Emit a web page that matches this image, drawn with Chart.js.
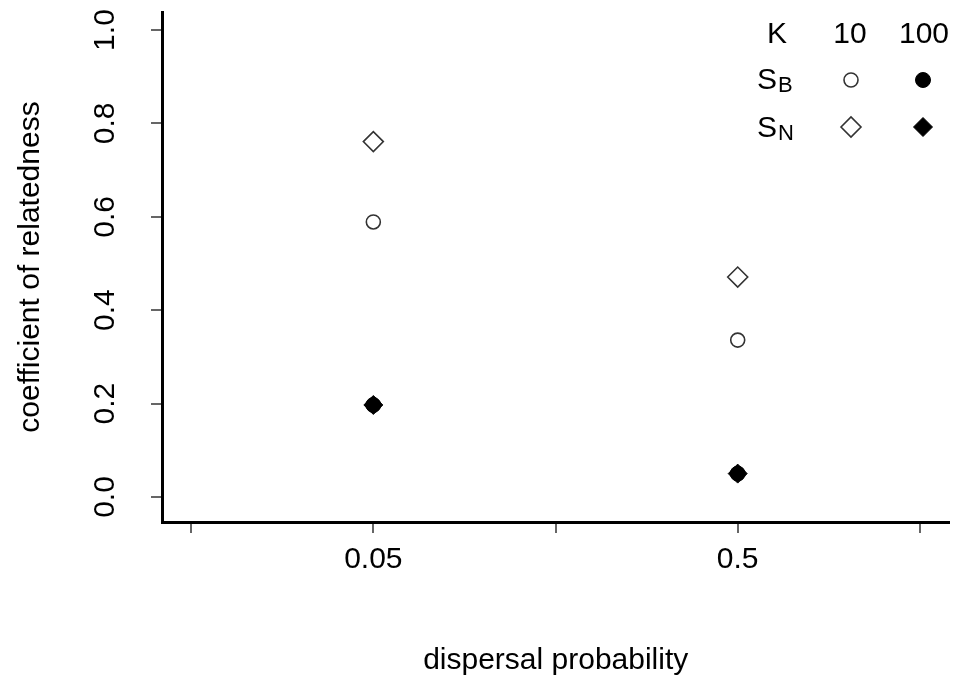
<!DOCTYPE html>
<html>
<head>
<meta charset="utf-8">
<script src="https://cdn.jsdelivr.net/npm/chart.js@4/dist/chart.umd.min.js"></script>
<style>
html, body { margin: 0; padding: 0; background: #fff; }
#wrap { width: 961px; height: 676px; }
</style>
</head>
<body>
<div id="wrap"><canvas id="chart" width="961" height="676"></canvas></div>
<script>
// dispersal probability categories, placed at x = 1 and x = 2
const categories = ['0.05', '0.5'];
const categoryPos = [1, 2];
const xTickValues = [0.5, 1, 1.5, 2, 2.5];
const yTickValues = [0, 0.2, 0.4, 0.6, 0.8, 1.0];

// coefficient of relatedness
const sbK10 = [0.589, 0.336];
const snK10 = [0.761, 0.471];
const sbK100 = [0.197, 0.050];
const snK100 = [0.197, 0.050];

// legend text
const legendHeader = ['K', '10', '100'];
const legendRows = [['S', 'B'], ['S', 'N']];

const FONT = '"Liberation Sans", Arial, sans-serif';

function toPoints(values) {
  return values.map((v, i) => ({ x: categoryPos[i], y: v }));
}

function drawMarker(ctx, style, r, x, y, filled) {
  ctx.save();
  ctx.lineWidth = filled ? 1 : 1.6;
  ctx.strokeStyle = filled ? '#000' : '#333';
  ctx.fillStyle = filled ? '#000' : 'rgba(0,0,0,0)';
  ctx.beginPath();
  if (style === 'circle') {
    ctx.arc(x, y, r, 0, Math.PI * 2);
  } else {
    ctx.moveTo(x - r, y);
    ctx.lineTo(x, y - r);
    ctx.lineTo(x + r, y);
    ctx.lineTo(x, y + r);
    ctx.closePath();
  }
  if (filled) ctx.fill();
  ctx.stroke();
  ctx.restore();
}

const legendPlugin = {
  id: 'rLegend',
  afterDraw(chart) {
    const ctx = chart.ctx;
    ctx.save();
    ctx.fillStyle = '#000';
    ctx.textBaseline = 'alphabetic';
    ctx.textAlign = 'center';
    ctx.font = '30px ' + FONT;
    const headX = [777, 850, 924];
    legendHeader.forEach((t, i) => ctx.fillText(t, headX[i], 43));

    const rowY = [89, 137];
    legendRows.forEach((row, i) => {
      ctx.textAlign = 'left';
      ctx.font = '30px ' + FONT;
      ctx.fillText(row[0], 757, rowY[i]);
      ctx.font = '22px ' + FONT;
      ctx.fillText(row[1], 778, rowY[i] + 3);
    });
    ctx.restore();

    drawMarker(ctx, 'circle', 7, 851, 80, false);
    drawMarker(ctx, 'circle', 7.5, 923, 80, true);
    drawMarker(ctx, 'diamond', 10, 851, 127, false);
    drawMarker(ctx, 'diamond', 9.5, 923, 127, true);
  }
};

const ctx = document.getElementById('chart').getContext('2d');
new Chart(ctx, {
  type: 'scatter',
  data: {
    datasets: [
      {
        label: 'S_B, K=100',
        data: toPoints(sbK100),
        pointStyle: 'circle',
        pointRadius: 7.5,
        backgroundColor: '#000',
        borderColor: '#000',
        borderWidth: 1
      },
      {
        label: 'S_N, K=100',
        data: toPoints(snK100),
        pointStyle: 'rectRot',
        pointRadius: 9.5,
        backgroundColor: '#000',
        borderColor: '#000',
        borderWidth: 1
      },
      {
        label: 'S_B, K=10',
        data: toPoints(sbK10),
        pointStyle: 'circle',
        pointRadius: 7,
        backgroundColor: 'rgba(0,0,0,0)',
        borderColor: '#333',
        borderWidth: 1.6
      },
      {
        label: 'S_N, K=10',
        data: toPoints(snK10),
        pointStyle: 'rectRot',
        pointRadius: 10,
        backgroundColor: 'rgba(0,0,0,0)',
        borderColor: '#333',
        borderWidth: 1.6
      }
    ]
  },
  options: {
    responsive: false,
    devicePixelRatio: 1,
    animation: false,
    events: [],
    layout: { padding: { top: 12, right: 8, left: 0, bottom: 0 } },
    plugins: {
      legend: { display: false },
      tooltip: { enabled: false }
    },
    scales: {
      x: {
        type: 'linear',
        min: 0.42,
        max: 2.581,
        afterBuildTicks: (s) => { s.ticks = xTickValues.map(v => ({ value: v })); },
        afterFit: (s) => { s.height = 154; s.paddingLeft = 0; s.paddingRight = 0; },
        grid: { drawOnChartArea: false, drawTicks: true, tickLength: 11, color: '#666', lineWidth: 2 },
        border: { display: true, color: '#000', width: 3 },
        ticks: {
          autoSkip: false,
          maxRotation: 0,
          padding: 9,
          color: '#000',
          font: { family: FONT, size: 30 },
          callback: (v) => {
            const i = categoryPos.indexOf(v);
            return i >= 0 ? categories[i] : '';
          }
        },
        title: {
          display: true,
          text: 'dispersal probability',
          color: '#000',
          font: { family: FONT, size: 30, lineHeight: 1 },
          padding: { top: 0, bottom: 0 }
        }
      },
      y: {
        type: 'linear',
        min: -0.0536,
        max: 1.0386,
        afterBuildTicks: (s) => { s.ticks = yTickValues.map(v => ({ value: v })); },
        afterFit: (s) => { s.width = 162; s.paddingTop = 0; s.paddingBottom = 0; },
        grid: { drawOnChartArea: false, drawTicks: true, tickLength: 11, color: '#666', lineWidth: 2 },
        border: { display: true, color: '#000', width: 3 },
        ticks: {
          autoSkip: false,
          minRotation: 90,
          maxRotation: 90,
          crossAlign: 'center',
          padding: 24,
          color: '#000',
          font: { family: FONT, size: 30 },
          callback: (v) => Number(v).toFixed(1)
        },
        title: {
          display: true,
          text: 'coefficient of relatedness',
          color: '#000',
          font: { family: FONT, size: 30, lineHeight: 1 },
          padding: { top: 16, bottom: 0 }
        }
      }
    }
  },
  plugins: [legendPlugin]
});
</script>
</body>
</html>
